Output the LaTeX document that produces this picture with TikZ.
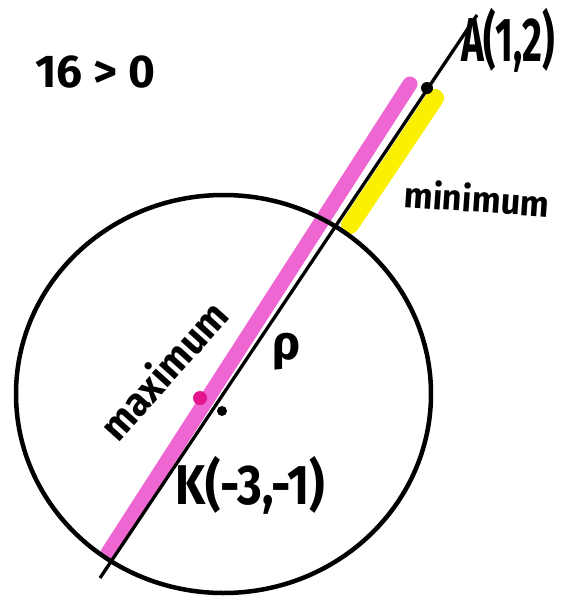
\documentclass[tikz,border=0pt]{standalone}
\usepackage{fontspec}
\setmainfont{Fira Sans}
\definecolor{hlpink}{RGB}{238,102,210}
\definecolor{hldot}{RGB}{228,20,140}
\definecolor{hlyellow}{RGB}{250,240,0}
\begin{document}
\begin{tikzpicture}[x=1pt,y=-1pt,
  hand/.style={inner sep=0pt, text=black},
  marker/.style={line cap=round, line width=#1},
  ink/.style={draw=black}]
\useasboundingbox (0,0) rectangle (566,598);
% highlights
\coordinate (p1) at (108,553);
\coordinate (p2) at (410,84);
\coordinate (y1) at (350,225);
\coordinate (y2) at (435,98);
\draw[marker=15pt, hlpink] (p1) -- (p2);
\draw[marker=18pt, hlyellow] (y1) -- (y2);
\fill[hldot] (200,398) circle (7);
% circle and line
\coordinate (K) at (222,411);
\draw[ink, line width=4.5pt] (223.5,394) ellipse [x radius=207.5, y radius=199];
\coordinate (lo) at (100,578);
\coordinate (hi) at (477,15);
\draw[ink, line width=3.3pt] (lo) -- (hi);
\node[circle, fill=black, inner sep=0pt, minimum size=12pt] (A) at (427,88) {};
\node[circle, fill=black, inner sep=0pt, minimum size=10pt] (Kd) at (K) {};
% texts
\node[hand, font=\bfseries\fontsize{46}{46}\selectfont] (ineq) at (95,72) {16 > 0};
\node[hand, font=\bfseries\fontsize{62}{62}\selectfont] (Al) at (508,40) {\scalebox{0.62}[1]{A(1,2)}};
\node[hand, font=\bfseries\fontsize{36}{36}\selectfont, rotate=-4] (mn) at (477,198) {\scalebox{0.95}[1]{minimum}};
\node[hand, font=\bfseries\fontsize{40}{40}\selectfont, rotate=48] (mx) at (163,370) {\scalebox{0.95}[1]{maximum}};
\node[hand, font=\bfseries\fontsize{48}{48}\selectfont] (rho) at (287,352) {ρ};
\node[hand, font=\bfseries\fontsize{56}{56}\selectfont] (Kl) at (250,485) {\scalebox{0.85}[1]{K(-3,-1)}};
\end{tikzpicture}
\end{document}
